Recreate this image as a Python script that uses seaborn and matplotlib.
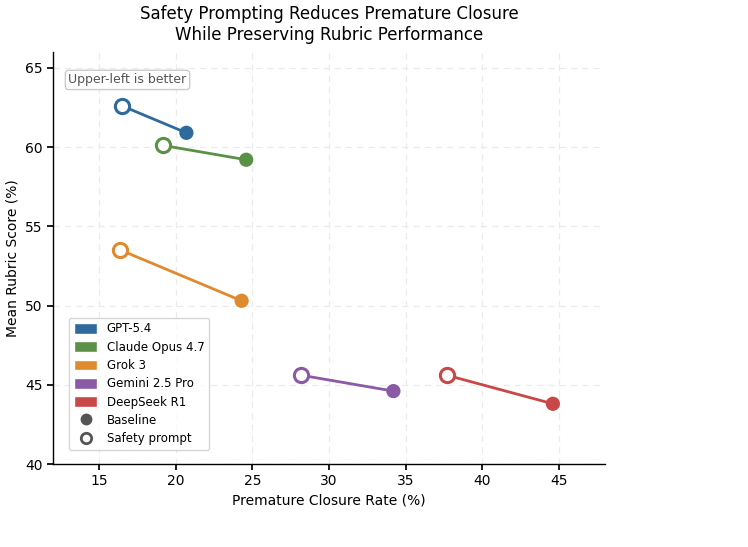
import matplotlib
matplotlib.use("Agg")
import matplotlib.pyplot as plt
import seaborn as sns
import pandas as pd
from matplotlib.patches import Patch
from matplotlib.lines import Line2D

models = ["GPT-5.4", "Claude Opus 4.7", "Grok 3", "Gemini 2.5 Pro", "DeepSeek R1"]
baseline_closure = [20.7, 24.6, 24.3, 34.2, 44.6]
baseline_score = [60.9, 59.2, 50.3, 44.6, 43.8]
safety_closure = [16.5, 19.2, 16.4, 28.2, 37.7]
safety_score = [62.6, 60.1, 53.5, 45.6, 45.6]
colors = ["#2E6A9C", "#5B9146", "#DF8A2E", "#8A5AA4", "#C94747"]

sns.set_theme(style="white")
plt.rcParams['font.family'] = ['DejaVu Sans']
plt.rcParams['text.color'] = 'black'
plt.rcParams['axes.labelcolor'] = 'black'
plt.rcParams['xtick.color'] = 'black'
plt.rcParams['ytick.color'] = 'black'

rows = []
for m, bx, by, sx, sy in zip(models, baseline_closure, baseline_score, safety_closure, safety_score):
    rows.append(dict(model=m, cond="Baseline", x=bx, y=by))
    rows.append(dict(model=m, cond="Safety prompt", x=sx, y=sy))
df = pd.DataFrame(rows)
pal = dict(zip(models, colors))

fig = plt.figure(figsize=(7.48, 5.47), dpi=100)
ax = fig.add_axes([53/748, 1-464/547, (605-53)/748, (464-52)/547])

sns.lineplot(data=df, x="x", y="y", hue="model", units="model", estimator=None,
             palette=pal, linewidth=2, sort=False, legend=False, ax=ax, zorder=2)
base = df[df.cond == "Baseline"]
safe = df[df.cond == "Safety prompt"]
sns.scatterplot(data=base, x="x", y="y", hue="model", palette=pal, s=105,
                edgecolor="none", legend=False, ax=ax, zorder=3)
for m in models:
    d = safe[safe.model == m]
    ax.scatter(d.x, d.y, s=105, facecolor="white", edgecolor=pal[m], linewidth=2.2, zorder=3)

ax.set_xlim(12, 48)
ax.set_ylim(40, 66)
ax.set_xticks([15, 20, 25, 30, 35, 40, 45])
ax.set_yticks([40, 45, 50, 55, 60, 65])
ax.grid(True, linestyle=(0, (5, 4)), color="#ebebeb", linewidth=0.9)
ax.set_axisbelow(True)
sns.despine(ax=ax)
for s in ["left", "bottom"]:
    ax.spines[s].set_color("black")
    ax.spines[s].set_linewidth(1.0)
ax.tick_params(axis="both", labelsize=10, length=4, color="black", bottom=True, left=True)

ax.set_xlabel("Premature Closure Rate (%)", fontsize=10)
ax.set_ylabel("Mean Rubric Score (%)", fontsize=10)
ax.set_title("Safety Prompting Reduces Premature Closure\nWhile Preserving Rubric Performance",
             fontsize=12, pad=9)

ax.text(0.028, 0.948, "Upper-left is better", transform=ax.transAxes, fontsize=9,
        color="#555555", va="top", ha="left",
        bbox=dict(boxstyle="round,pad=0.25", facecolor="white", edgecolor="#cccccc"))

handles = [Patch(facecolor=c, label=m) for m, c in zip(models, colors)]
handles.append(Line2D([0], [0], marker="o", linestyle="none", markersize=7.5,
                      markerfacecolor="#555555", markeredgecolor="#555555", label="Baseline"))
handles.append(Line2D([0], [0], marker="o", linestyle="none", markersize=7.5,
                      markerfacecolor="white", markeredgecolor="#555555", markeredgewidth=2,
                      label="Safety prompt"))
ax.legend(handles=handles, loc="lower left", bbox_to_anchor=(0.029, 0.034), borderaxespad=0,
          fontsize=8.5, frameon=True, edgecolor="#cccccc", labelspacing=0.45,
          handleheight=1.0)

fig.savefig("out.png", dpi=100)
